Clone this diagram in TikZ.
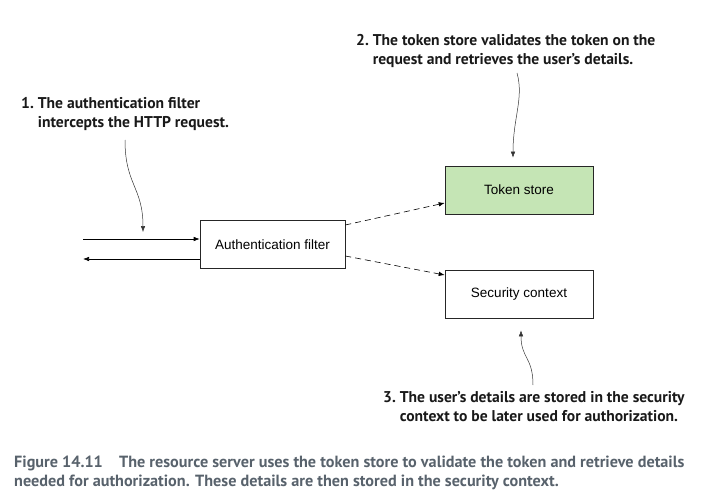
\documentclass[tikz,border=0pt]{standalone}
\usepackage{fontspec}
\setmainfont{Liberation Sans}
\newfontfamily\notefont{PT Sans}
\newfontfamily\capfont{PT Sans}
\usetikzlibrary{positioning,arrows.meta}
\definecolor{storegreen}{RGB}{197,229,181}
\definecolor{capgray}{RGB}{88,98,108}

\begin{document}
\begin{tikzpicture}[
  x=1pt, y=-1pt,
  >={Latex[length=6pt,width=4.5pt]},
  box/.style={draw=black!85, line width=0.6pt, minimum width=148pt, minimum height=48pt, inner sep=0pt, font=\fontsize{13.5}{15}\selectfont},
  note/.style={align=left, inner sep=0pt, anchor=north west, font=\notefont\bfseries\fontsize{15.6}{19}\selectfont, text=black!90},
  callout/.style={->, line width=0.5pt, black!80},
  flow/.style={->, line width=0.6pt},
  call/.style={->, dash pattern=on 6pt off 4pt, line width=0.6pt}
]
\useasboundingbox (0,0) rectangle (723,503);

% Boxes
\node[box, minimum width=145pt] (auth) at (272.5,244.5) {Authentication filter};
\node[box, fill=storegreen] (token) at (519,190) {Token store};
\node[box] (sec) at (519,294) {Security context};

% Client request and response
\coordinate (cin) at (83,239);
\coordinate (cout) at (83,259);
\draw[flow] (cin) -- (cin -| auth.west);
\draw[flow] (cout -| auth.west) -- (cout);

% Filter to token store and security context
\draw[call] ([yshift=19.5pt]auth.east) -- ([yshift=-13pt]token.west);
\draw[call] ([yshift=-11.5pt]auth.east) -- ([yshift=19pt]sec.west);

% Notes
\node[note] (note1) at (21,97) {1.\ The authentication filter\\\phantom{1.\ }intercepts the HTTP request.};
\node[note] (note2) at (356,34) {2.\ The token store validates the token on the\\\phantom{2.\ }request and retrieves the user’s details.};
\node[note] (note3) at (383,391) {3.\ The user’s details are stored in the security\\\phantom{3.\ }context to be later used for authorization.};

% Callout lines
\coordinate (n1) at (125,140);
\coordinate (n2) at (517,73);
\coordinate (n3) at (533,385);
\draw[callout] (n1) .. controls +(0,45) and +(0,-45) .. ([yshift=7pt]cin -| 143,0);
\draw[callout] (n2) .. controls +(7,25) and +(0,-40) .. ([xshift=-6pt,yshift=8pt]token.north);
\draw[callout] (n3) .. controls +(0,-28) and +(0,28) .. ([xshift=2pt,yshift=-12pt]sec.south);

% Caption
\node[anchor=north west, align=left, inner sep=0pt, text=capgray, font=\capfont\bfseries\fontsize{16.2}{19}\selectfont] (caption) at (14,456)
  {Figure 14.11\quad The resource server uses the token store to validate the token and retrieve details\\needed for authorization. These details are then stored in the security context.};
\end{tikzpicture}
\end{document}
